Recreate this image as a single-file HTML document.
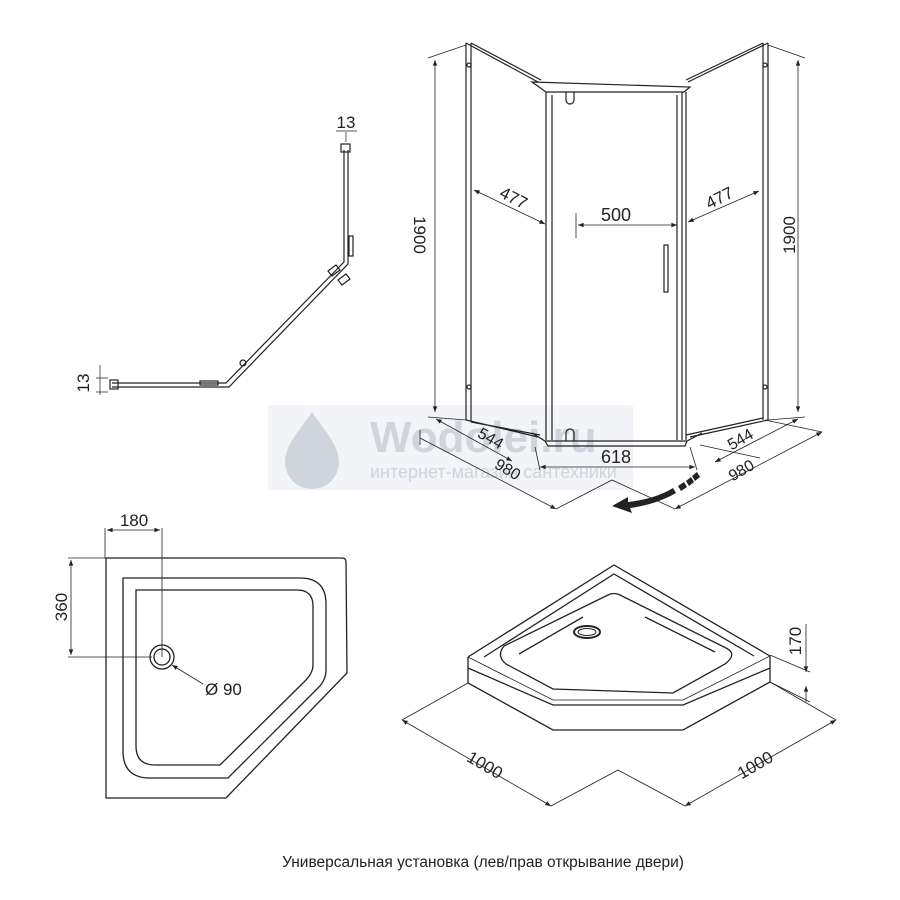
<!DOCTYPE html>
<html><head><meta charset="utf-8"><style>
html,body{margin:0;padding:0;background:#fff;}
svg{display:block;}
text{font-family:"Liberation Sans","Noto Sans CJK SC",sans-serif;fill:#222;}
</style></head><body>
<svg width="900" height="900" viewBox="0 0 900 900" xmlns="http://www.w3.org/2000/svg">
<defs>
<marker id="a" viewBox="0 0 10 10" refX="10" refY="5" markerWidth="9" markerHeight="7" orient="auto-start-reverse"><path d="M0,1 L10,5 L0,9 z" fill="#222"/></marker>
</defs>
<!-- watermark -->
<g opacity="0.55">
<rect x="268" y="405" width="365" height="85" fill="#e8ecf1"/>
<path d="M312,412 C300,430 285,445 285,462 A27,27 0 0 0 339,462 C339,445 324,430 312,412 z" fill="#aab4c2"/>
<text x="370" y="452" font-size="44" font-weight="bold" style="fill:#aab4c2">Wodolei.ru</text>
<text x="370" y="478" font-size="18" style="fill:#aab4c2">интернет-магазин сантехники</text>
</g>

<g fill="none" stroke="#222" stroke-width="1.2">
<!-- top-left plan -->
<path d="M344,150 L344,262 L226,383 L112,383"/>
<path d="M348,150 L348,264 L229,387 L112,387"/>
<rect x="341" y="144" width="9" height="8"/>
<rect x="110" y="380" width="8" height="9"/>
<rect x="200" y="381" width="18" height="4"/>
<rect x="349" y="236" width="4" height="20"/>
<path d="M328,271 l8,-6 l4,5 l-8,6z M338,280 l8,-6 l4,5 l-8,6z"/>
<circle cx="243" cy="363" r="3"/>
<path d="M346,132 V142 M336,131 H357" stroke-width="0.7"/>
<path d="M96,378 H108 M96,392 H108 M100,365 V395" stroke-width="0.7"/>

<!-- shower cabin -->
<path d="M466,43 V420 M471,43 V422"/>
<path d="M763,43 V420 M768,43 V420"/>
<path d="M466,43 L538,82 M471,43 L541,80"/>
<path d="M768,43 L688,82 M763,43 L686,80"/>
<path d="M532,82 L690,87 L684,92 L546,92 z"/>
<path d="M546,92 V440 M552,95 V440"/>
<path d="M677,95 V440 M682,92 V440 M686,92 V440"/>
<rect x="664" y="245" width="4" height="47"/>
<path d="M566,92 v8 a4,4 0 0 0 8,0 v-8"/>
<path d="M466,420 L538,437 M471,422 L540,435"/>
<path d="M768,420 L690,437 M763,418 L686,435"/>
<path d="M532,433 L545,441 L687,441 L702,433 M545,441 L548,446 L685,446 L687,441"/>
<path d="M566,441 v-8 a4,4 0 0 1 8,0 v8"/>
<circle cx="469" cy="65" r="2"/><circle cx="469" cy="387" r="2"/>
<circle cx="765" cy="65" r="2"/><circle cx="765" cy="387" r="2"/>
</g>
<g fill="none" stroke="#222" stroke-width="0.8">
<path d="M435,60 V412" marker-start="url(#a)" marker-end="url(#a)"/>
<path d="M428,58 L466,45 M428,417 L466,420"/>
<path d="M798,60 V412" marker-start="url(#a)" marker-end="url(#a)"/>
<path d="M768,45 L805,58 M768,420 L805,417"/>
<path d="M474,190 L545,224" marker-start="url(#a)" marker-end="url(#a)"/>
<path d="M576,213 V238"/>
<path d="M578,225 H677" marker-start="url(#a)" marker-end="url(#a)"/>
<path d="M688,222 L759,191" marker-start="url(#a)" marker-end="url(#a)"/>
<path d="M436,419 L512,461" marker-start="url(#a)" marker-end="url(#a)"/>
<path d="M540,467 H695" marker-start="url(#a)" marker-end="url(#a)"/>
<path d="M535,447 L540,470 M690,447 L697,470"/>
<path d="M420,438 L556,509" marker-end="url(#a)"/>
<path d="M420,430 V445"/>
<path d="M715,462 L798,419" marker-start="url(#a)" marker-end="url(#a)"/>
<path d="M675,509 L822,432" marker-start="url(#a)" marker-end="url(#a)"/>
<path d="M556,509 L612,480 L675,509 M765,420 L822,432 M700,445 L760,458"/>
</g>
<g fill="#222">
<path d="M612,506 L628,497 L628,502 C645,500 660,496 673,488 L676,493 C662,501 646,506 630,508 L632,513 z"/>
<path d="M678,486 l6,-4 l3,5 l-6,4z M686,481 l5,-4 l3,5 l-5,4z M692,476 l5,-4 l3,5 l-5,4z"/>
</g>
<text x="0" y="0" font-size="17" transform="translate(414,235) rotate(90)" text-anchor="middle">1900</text>
<text x="0" y="0" font-size="17" transform="translate(795,235) rotate(-90)" text-anchor="middle">1900</text>
<text x="0" y="0" font-size="17" transform="translate(511,203) rotate(27)" text-anchor="middle">477</text>
<text x="0" y="0" font-size="17" transform="translate(722,203) rotate(-27)" text-anchor="middle">477</text>
<text x="616" y="221" font-size="18" text-anchor="middle">500</text>
<text x="616" y="463" font-size="18" text-anchor="middle">618</text>
<text x="0" y="0" font-size="16" transform="translate(488,443) rotate(30)" text-anchor="middle">544</text>
<text x="0" y="0" font-size="16" transform="translate(505,474) rotate(30)" text-anchor="middle">980</text>
<text x="0" y="0" font-size="16" transform="translate(743,444) rotate(-30)" text-anchor="middle">544</text>
<text x="0" y="0" font-size="16" transform="translate(744,475) rotate(-30)" text-anchor="middle">980</text>
<text x="346" y="128" font-size="17" text-anchor="middle">13</text>
<text x="0" y="0" font-size="17" transform="translate(89,383) rotate(-90)" text-anchor="middle">13</text>

<!-- tray plan -->
<g fill="none" stroke="#222" stroke-width="1.3">
<path d="M106,558 H342 Q346,558 346,562 L347,673 L226,798 H106 z"/>
<path d="M123,578 H300 Q326,578 326,604 V670 Q326,680 318,688 L228,778 H150 Q123,778 123,751 z"/>
<path d="M136,590 H297 Q313,590 313,606 V665 Q313,673 305,681 L220,765 H155 Q136,765 136,746 z"/>
<circle cx="162" cy="657" r="12"/><circle cx="162" cy="657" r="8"/>
</g>
<g fill="none" stroke="#222" stroke-width="0.8">
<path d="M105,528 V558 M162,528 V657"/>
<path d="M107,530 H160" marker-start="url(#a)" marker-end="url(#a)"/>
<path d="M68,558 H106 M68,657 H152"/>
<path d="M71,560 V655" marker-start="url(#a)" marker-end="url(#a)"/>
<path d="M203,684 L172,665" marker-end="url(#a)"/>
</g>
<text x="134" y="526" font-size="17" text-anchor="middle">180</text>
<text x="0" y="0" font-size="17" transform="translate(67,607) rotate(-90)" text-anchor="middle">360</text>
<text x="205" y="695" font-size="17">Ø 90</text>

<!-- tray iso -->
<g fill="none" stroke="#222" stroke-width="1.3">
<path d="M468,657 L614,565 L770,656"/>
<path d="M484,657 L614,574 L754,656"/>
<path d="M468,657 V683 L553,730 H683 L770,682 V656"/>
<path d="M468,668 L553,705 H683 L770,668"/>
<path d="M468,657 L553,700 H683 L770,656" stroke-width="0.8"/>
<path d="M504,646 Q496,656 506,664 L553,689 L673,693 L725,664 Q738,654 726,648 L620,595 Q614,592 608,595 z"/>
<path d="M519,654 L583,617"/>
<path d="M645,617 L715,652"/>
</g>
<ellipse cx="587" cy="632" rx="13" ry="6" fill="none" stroke="#222" stroke-width="2"/>
<ellipse cx="587" cy="632" rx="9" ry="3.5" fill="none" stroke="#222" stroke-width="1"/>
<g fill="none" stroke="#222" stroke-width="0.8">
<path d="M468,683 L402,720 M770,682 L836,720"/>
<path d="M402,720 L551,806" marker-start="url(#a)" marker-end="url(#a)"/>
<path d="M836,720 L685,806" marker-start="url(#a)" marker-end="url(#a)"/>
<path d="M551,806 L618,770 L685,806"/>
<path d="M770,655 L810,672 M770,682 L810,702"/>
<path d="M806,624 V672" marker-end="url(#a)"/>
<path d="M806,702 V686" marker-end="url(#a)"/>
</g>
<text x="0" y="0" font-size="17" transform="translate(482,770) rotate(30)" text-anchor="middle">1000</text>
<text x="0" y="0" font-size="17" transform="translate(758,770) rotate(-30)" text-anchor="middle">1000</text>
<text x="0" y="0" font-size="17" transform="translate(801,641) rotate(-90)" text-anchor="middle">170</text>

<text x="483" y="867" font-size="15.5" text-anchor="middle">Универсальная установка (лев/прав открывание двери)</text>
</svg>
</body></html>
